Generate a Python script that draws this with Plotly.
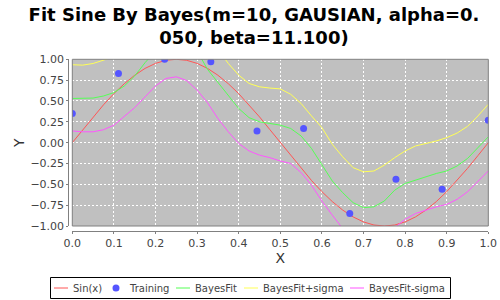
import plotly.graph_objects as go

# ---------------- data ----------------
x_curve = [0.0, 0.025, 0.05, 0.075, 0.1, 0.125, 0.15, 0.175, 0.2, 0.225,
           0.25, 0.275, 0.3, 0.325, 0.35, 0.375, 0.4, 0.425, 0.45, 0.475,
           0.5, 0.525, 0.55, 0.575, 0.6, 0.625, 0.65, 0.675, 0.7, 0.725,
           0.75, 0.775, 0.8, 0.825, 0.85, 0.875, 0.9, 0.925, 0.95, 0.975, 1.0]

sin_y = [0.0, 0.156, 0.309, 0.454, 0.588, 0.707, 0.809, 0.891, 0.951, 0.988,
         1.0, 0.988, 0.951, 0.891, 0.809, 0.707, 0.588, 0.454, 0.309, 0.156,
         0.0, -0.156, -0.309, -0.454, -0.588, -0.707, -0.809, -0.891, -0.951, -0.988,
         -1.0, -0.988, -0.951, -0.891, -0.809, -0.707, -0.588, -0.454, -0.309, -0.156, 0.0]

fit_y = [0.53, 0.53, 0.535, 0.56, 0.60, 0.68, 0.80, 0.96, 1.10, 1.18,
         1.22, 1.20, 1.10, 0.88, 0.72, 0.56, 0.41, 0.30, 0.25, 0.23,
         0.21, 0.17, 0.08, -0.07, -0.27, -0.46, -0.60, -0.72, -0.78, -0.77,
         -0.70, -0.57, -0.49, -0.45, -0.41, -0.37, -0.34, -0.28, -0.19, -0.06, 0.07]

fit_plus_y = [0.935, 0.93, 0.95, 0.99, 1.03, 1.10, 1.22, 1.36, 1.50, 1.58,
              1.62, 1.60, 1.50, 1.30, 1.12, 0.95, 0.81, 0.71, 0.67, 0.655,
              0.645, 0.58, 0.47, 0.32, 0.18, -0.02, -0.17, -0.30, -0.35, -0.34,
              -0.27, -0.18, -0.10, -0.04, -0.01, 0.02, 0.06, 0.115, 0.195, 0.32, 0.46]

fit_minus_y = [0.14, 0.13, 0.13, 0.155, 0.21, 0.31, 0.42, 0.55, 0.68, 0.77,
               0.79, 0.745, 0.63, 0.48, 0.29, 0.13, -0.01, -0.10, -0.15, -0.18,
               -0.22, -0.25, -0.36, -0.51, -0.70, -0.87, -1.03, -1.15, -1.20, -1.18,
               -1.12, -1.02, -0.92, -0.85, -0.81, -0.77, -0.74, -0.68, -0.59, -0.46, -0.34]

train_x = [0.0, 0.111, 0.222, 0.333, 0.444, 0.556, 0.667, 0.778, 0.889, 1.0]
train_y = [0.35, 0.83, 1.0, 0.97, 0.14, 0.17, -0.85, -0.44, -0.56, 0.27]

series_names = ["Sin(x)", "Training", "BayesFit", "BayesFit+sigma", "BayesFit-sigma"]
y_ticks = [-1.0, -0.75, -0.5, -0.25, 0.0, 0.25, 0.5, 0.75, 1.0]
x_ticks = [0.0, 0.1, 0.2, 0.3, 0.4, 0.5, 0.6, 0.7, 0.8, 0.9, 1.0]

# ---------------- style ----------------
RED, BLUE, GREEN, YELLOW, MAGENTA = "#FF5555", "#5555FF", "#55FF55", "#FFFF55", "#FF55FF"
FONT = "DejaVu Sans"
W, H = 500, 300

def px(xp):
    return xp / W

def py(yp):
    return 1 - yp / H

plot_l, plot_r, plot_t, plot_b = 72.3, 488.3, 59.3, 226.0

fig = go.Figure()
fig.add_trace(go.Scatter(x=x_curve, y=sin_y, mode="lines", name=series_names[0],
                         line=dict(color=RED, width=1)))
fig.add_trace(go.Scatter(x=train_x, y=train_y, mode="markers", name=series_names[1],
                         marker=dict(color=BLUE, size=7)))
fig.add_trace(go.Scatter(x=x_curve, y=fit_y, mode="lines", name=series_names[2],
                         line=dict(color=GREEN, width=1)))
fig.add_trace(go.Scatter(x=x_curve, y=fit_plus_y, mode="lines", name=series_names[3],
                         line=dict(color=YELLOW, width=1)))
fig.add_trace(go.Scatter(x=x_curve, y=fit_minus_y, mode="lines", name=series_names[4],
                         line=dict(color=MAGENTA, width=1)))

fig.update_layout(
    width=W, height=H,
    margin=dict(l=0, r=0, t=0, b=0),
    paper_bgcolor="white",
    plot_bgcolor="#C0C0C0",
    showlegend=False,
    font=dict(family=FONT, size=11, color="#444444"),
    title=dict(text="Fit Sine By Bayes(m=10, GAUSIAN, alpha=0.<br>050, beta=11.100)",
               x=0.508, xanchor="center", y=0.93, yanchor="top",
               font=dict(family=FONT, size=18, color="black", weight="bold")),
    xaxis=dict(domain=[px(plot_l), px(plot_r)], range=[0, 1], tickvals=x_ticks,
               tickformat=".1f", anchor="free", position=py(230.7),
               showline=True, linecolor="#808080", linewidth=1,
               ticks="outside", ticklen=2, tickcolor="#808080",
               showgrid=True, gridcolor="white", gridwidth=1, griddash="2px,2px",
               zeroline=False, automargin=False,
               tickfont=dict(size=11, color="#444444"),
               title=dict(text="X", font=dict(size=14, color="#333333"), standoff=4)),
    yaxis=dict(domain=[py(plot_b), py(plot_t)], range=[-1, 1], tickvals=y_ticks,
               tickformat=".2f", anchor="free", position=px(68.3),
               showline=True, linecolor="#808080", linewidth=1,
               ticks="outside", ticklen=2, tickcolor="#808080",
               showgrid=True, gridcolor="white", gridwidth=1, griddash="2px,2px",
               zeroline=False, automargin=False,
               tickfont=dict(size=11, color="#444444"),
               title=dict(text="Y", font=dict(size=14, color="#333333"), standoff=1)),
)

# plot outline
fig.add_shape(type="rect", xref="paper", yref="paper",
              x0=px(plot_l), x1=px(plot_r), y0=py(plot_b), y1=py(plot_t),
              line=dict(color="#808080", width=1), fillcolor="rgba(0,0,0,0)", layer="above")

# ---------------- legend (drawn) ----------------
leg_y = py(288)
fig.add_shape(type="rect", xref="paper", yref="paper",
              x0=px(50.5), x1=px(450.5), y0=py(298.5), y1=py(277.5),
              line=dict(color="black", width=1), fillcolor="white")
legend_items = [
    ("line", RED, 54, 68, 72),
    ("dot", BLUE, 116, 116, 128),
    ("line", GREEN, 176, 190, 194),
    ("line", YELLOW, 244, 258, 262),
    ("line", MAGENTA, 350, 364, 368),
]
for name, (kind, color, a, b, tx) in zip(series_names, legend_items):
    if kind == "line":
        fig.add_shape(type="line", xref="paper", yref="paper",
                      x0=px(a), x1=px(b), y0=leg_y, y1=leg_y,
                      line=dict(color=color, width=1))
    else:
        fig.add_shape(type="circle", xref="paper", yref="paper",
                      x0=px(a - 3.5), x1=px(a + 3.5), y0=py(291.5), y1=py(284.5),
                      line=dict(color=color, width=0), fillcolor=color)
    fig.add_annotation(x=px(tx - 1), y=leg_y, xref="paper", yref="paper",
                       text=name, showarrow=False, xanchor="left", yanchor="middle",
                       font=dict(family=FONT, size=10, color="#444444"))

fig.write_html("out.html")
